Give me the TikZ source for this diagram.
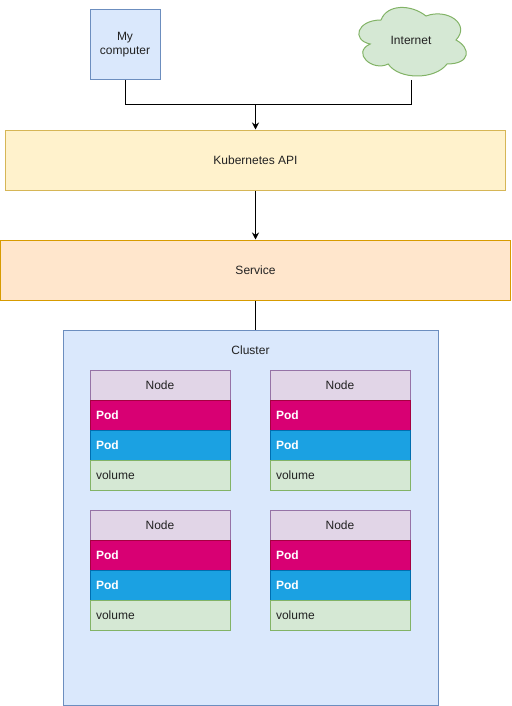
\documentclass[tikz,border=0pt]{standalone}
\usepackage{fontspec}
\setmainfont{Liberation Sans}
\usetikzlibrary{arrows.meta,calc}
\definecolor{apiF}{HTML}{FFF2CC}\definecolor{apiS}{HTML}{D6B656}
\definecolor{svcF}{HTML}{FFE6CC}\definecolor{svcS}{HTML}{D79B00}
\definecolor{bluF}{HTML}{DAE8FC}\definecolor{bluS}{HTML}{6C8EBF}
\definecolor{grnF}{HTML}{D5E8D4}\definecolor{grnS}{HTML}{82B366}
\definecolor{purF}{HTML}{E1D5E7}\definecolor{purS}{HTML}{9673A6}
\definecolor{magF}{HTML}{D80073}\definecolor{magS}{HTML}{A50040}
\definecolor{cyaF}{HTML}{1BA1E2}\definecolor{cyaS}{HTML}{006EAF}
\definecolor{txt}{HTML}{222222}
\tikzset{
  every node/.style={font=\fontsize{12}{14}\selectfont, text=txt},
  box/.style={draw, line width=1pt, inner sep=0pt, align=center},
  row/.style={draw, line width=1pt, minimum height=30pt, inner xsep=6pt, inner ysep=0pt, text width=128pt},
  hdr/.style={row, fill=purF, draw=purS, align=center},
  podA/.style={row, fill=magF, draw=magS, align=left, text=white, font=\fontsize{12}{14}\selectfont\bfseries},
  podB/.style={row, fill=cyaF, draw=cyaS, align=left, text=white, font=\fontsize{12}{14}\selectfont\bfseries},
  vol/.style={row, fill=grnF, draw=grnS, align=left},
  conn/.style={line width=1pt, draw=black},
  arr/.style={conn, -{Stealth[length=7pt,width=7pt]}}
}
\newcommand\kstack[3]{%
  \node[hdr]  (#1h) at ({#2+70},{#3+15}) {Node};
  \node[podA] (#1a) at ({#2+70},{#3+45}) {Pod};
  \node[podB] (#1b) at ({#2+70},{#3+75}) {Pod};
  \node[vol]  (#1v) at ({#2+70},{#3+105}) {volume};
}
\begin{document}
\begin{tikzpicture}[x=1pt,y=-1pt]
\useasboundingbox (0,0) rectangle (511,706);
% top sources
\node[box, fill=bluF, draw=bluS, minimum width=70pt, minimum height=70pt] (comp) at (125,45) {My\\computer};
\draw[line width=1pt, fill=grnF, draw=grnS]
  (381,20) .. controls (357,20) and (351,40) .. (370.2,44)
  .. controls (351,52.8) and (372.6,72) .. (388.2,64)
  .. controls (399,80) and (435,80) .. (447,64)
  .. controls (471,64) and (471,48) .. (456,40)
  .. controls (471,24) and (447,8) .. (426,16)
  .. controls (411,4) and (387,4) .. (381,20) -- cycle;
\node (inet) at (411,40) {Internet};
\coordinate (inetb) at (411,80);
% API and service
\node[box, fill=apiF, draw=apiS, minimum width=500pt, minimum height=60pt] (api) at (255.5,160) {Kubernetes API};
\node[box, fill=svcF, draw=svcS, minimum width=510pt, minimum height=60pt] (svc) at (255.5,270) {Service};
% cluster
\node[box, fill=bluF, draw=bluS, minimum width=375pt, minimum height=375pt] (clu) at (250.5,517.5) {};
\node (clul) at (250.5,350) {Cluster};
% connectors
\coordinate (j) at (255.5,105);
\draw[conn] (comp.south) |- (j);
\draw[conn] (inetb) |- (j);
\draw[arr] (j) -- (api.north);
\draw[arr] (api.south) -- (svc.north);
\draw[conn] (svc.south) -- (svc.south |- clu.north);
% node stacks
\kstack{n1}{90}{370}
\kstack{n2}{270}{370}
\kstack{n3}{90}{510}
\kstack{n4}{270}{510}
\end{tikzpicture}
\end{document}
